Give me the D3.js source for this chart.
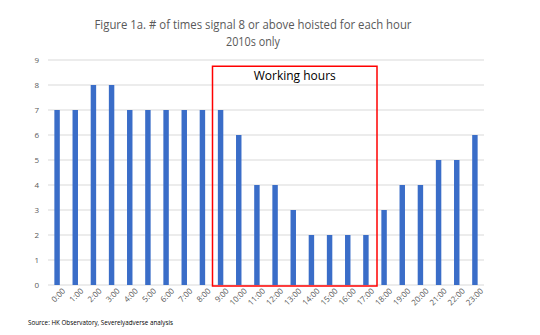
<!DOCTYPE html>
<html>
<head>
<meta charset="utf-8">
<script src="https://cdn.jsdelivr.net/npm/d3@7"></script>
<style>
  body { margin: 0; background: #fff; }
  text { font-family: "Open Sans", "Liberation Sans", sans-serif; }
</style>
</head>
<body>
<div id="chart"></div>
<script>
const hours = ["0:00", "1:00", "2:00", "3:00", "4:00", "5:00", "6:00", "7:00", "8:00", "9:00", "10:00", "11:00",
    "12:00", "13:00", "14:00", "15:00", "16:00", "17:00", "18:00", "19:00", "20:00", "21:00", "22:00", "23:00"];
const counts = [7, 7, 8, 8, 7, 7, 7, 7, 7, 7, 6, 4, 4, 3, 2, 2, 2, 2, 3, 4, 4, 5, 5, 6];
const yTicks = [0, 1, 2, 3, 4, 5, 6, 7, 8, 9];
const workStart = "9:00";
const workEnd = "18:00";

const margin = { top: 60, right: 56, bottom: 50, left: 48 };
const width = 540 - margin.left - margin.right;
const height = 335 - margin.top - margin.bottom;

const root = d3.select("#chart").append("svg")
    .attr("width", 540)
    .attr("height", 335);

const svg = root.append("g")
    .attr("transform", "translate(" + margin.left + "," + margin.top + ")");

// title
root.append("text")
    .attr("x", 253).attr("y", 29)
    .attr("text-anchor", "middle")
    .attr("textLength", 317).attr("lengthAdjust", "spacingAndGlyphs")
    .style("font-size", "13px").style("fill", "#595959")
    .text("Figure 1a. # of times signal 8 or above hoisted for each hour");
root.append("text")
    .attr("x", 253).attr("y", 46)
    .attr("text-anchor", "middle")
    .attr("textLength", 54).attr("lengthAdjust", "spacingAndGlyphs")
    .style("font-size", "13px").style("fill", "#595959")
    .text("2010s only");

// scales
const x = d3.scaleBand()
    .range([0, width])
    .domain(hours)
    .paddingInner(0.7)
    .paddingOuter(0.35);

const y = d3.scaleLinear()
    .range([height, 0])
    .domain([0, 9]);

// gridlines
svg.append("g")
    .selectAll("line")
    .data(yTicks)
    .enter().append("line")
    .attr("x1", 0).attr("x2", width)
    .attr("y1", d => y(d)).attr("y2", d => y(d))
    .style("stroke", "#d9d9d9")
    .style("stroke-width", 1);

// y axis labels
const yAxis = d3.axisLeft(y).tickValues(yTicks).tickSize(0).tickPadding(9);
svg.append("g")
    .attr("class", "y-axis")
    .call(yAxis)
    .call(g => g.select(".domain").remove())
    .call(g => g.selectAll("text").style("font-size", "8px").style("fill", "#595959"));

// bars
svg.selectAll(".bar")
    .data(counts)
    .enter().append("rect")
    .attr("class", "bar")
    .attr("x", (d, i) => x(hours[i]))
    .attr("width", x.bandwidth())
    .attr("y", d => y(d))
    .attr("height", d => y(0) - y(d))
    .style("fill", "#3a6dc8");

// x axis
const xAxis = d3.axisBottom(x).tickSize(0).tickPadding(6);
svg.append("g")
    .attr("class", "x-axis")
    .attr("transform", `translate(0, ${height})`)
    .call(xAxis)
    .call(g => g.select(".domain").remove())
    .call(g => g.selectAll("text")
        .style("font-size", "8px").style("fill", "#595959")
        .style("text-anchor", "end")
        .attr("dx", "0.2em").attr("dy", "0.6em")
        .attr("transform", "rotate(-45)"));

// working hours box
const step = x.step();
const bx0 = x(workStart) - (step - x.bandwidth()) / 2 + 1;
const bx1 = x(workEnd) - (step - x.bandwidth()) / 2 + 2;
svg.append("rect")
    .attr("x", bx0)
    .attr("y", y(8.75))
    .attr("width", bx1 - bx0)
    .attr("height", y(0) - y(8.75) + 1)
    .style("fill", "none")
    .style("stroke", "#ff0000")
    .style("stroke-width", 1.5);

svg.append("text")
    .attr("x", (bx0 + bx1) / 2)
    .attr("y", y(8.75) + 14)
    .attr("text-anchor", "middle")
    .style("font-size", "12px").style("fill", "#000")
    .text("Working hours");

// source
root.append("text")
    .attr("x", 28).attr("y", 325)
    .attr("textLength", 145).attr("lengthAdjust", "spacingAndGlyphs")
    .style("font-size", "7px").style("fill", "#000")
    .text("Source: HK Observatory, Severelyadverse analysis");
</script>
</body>
</html>
